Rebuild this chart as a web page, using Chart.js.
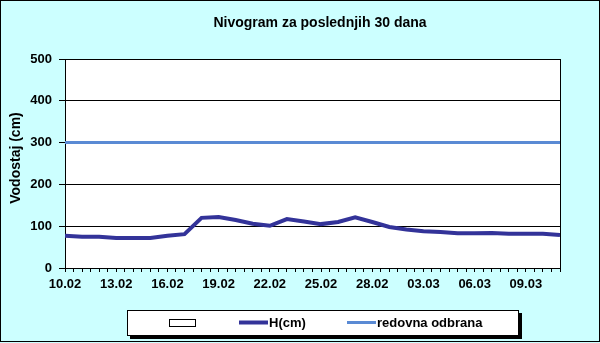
<!DOCTYPE html>
<html>
<head>
<meta charset="utf-8">
<script src="https://cdn.jsdelivr.net/npm/chart.js@4.4.1/dist/chart.umd.min.js"></script>
<style>
  body { margin: 0; background: #ccffff; }
  canvas { display: block; }
</style>
</head>
<body>
<canvas id="nivogram" width="600" height="343"></canvas>
<script>
const FONT = 'Arial, "Liberation Sans", sans-serif';

const dates = ['10.02', '11.02', '12.02', '13.02', '14.02', '15.02', '16.02', '17.02', '18.02', '19.02',
               '20.02', '21.02', '22.02', '23.02', '24.02', '25.02', '26.02', '27.02', '28.02', '01.03',
               '02.03', '03.03', '04.03', '05.03', '06.03', '07.03', '08.03', '09.03', '10.03', '11.03'];
const levels = [77, 75, 75, 72, 72, 72, 77, 81, 120, 122,
                115, 106, 101, 117, 111, 105, 110, 121, 110, 98,
                92, 88, 86, 83, 83, 84, 82, 82, 82, 79];
const redovnaOdbrana = 300;
const yTicks = [0, 100, 200, 300, 400, 500];

// background, plot frame, title, axis title and the boxed legend
const frame = {
  id: 'frame',
  beforeDraw(chart) {
    const c = chart.ctx, a = chart.chartArea;
    c.save();
    c.fillStyle = '#ccffff';
    c.fillRect(0, 0, chart.width, chart.height);
    c.fillStyle = '#ffffff';
    c.fillRect(a.left, a.top, a.right - a.left, a.bottom - a.top);
    c.restore();
  },
  afterDraw(chart) {
    const c = chart.ctx, a = chart.chartArea;
    c.save();
    c.strokeStyle = '#000';
    c.lineWidth = 1;
    c.beginPath();
    c.moveTo(Math.round(a.right) + 0.5, a.top);
    c.lineTo(Math.round(a.right) + 0.5, a.bottom);
    c.stroke();
    c.strokeRect(0.5, 0.5, 599, 341);

    c.fillStyle = '#000';
    c.font = 'bold 14px ' + FONT;
    c.textAlign = 'center';
    c.textBaseline = 'alphabetic';
    c.fillText('Nivogram za poslednjih 30 dana', 320, 27);

    c.save();
    c.translate(20, 158);
    c.rotate(-Math.PI / 2);
    c.fillText('Vodostaj (cm)', 0, 0);
    c.restore();

    // legend box with shadow
    c.fillStyle = '#000';
    c.fillRect(130, 313, 392, 26);
    c.fillStyle = '#fff';
    c.fillRect(127.5, 310.5, 391, 25);
    c.strokeRect(127.5, 310.5, 391, 25);

    const ds = chart.data.datasets;
    c.strokeRect(169.5, 319.5, 26, 7);
    c.lineCap = 'butt';
    c.strokeStyle = ds[1].borderColor;
    c.lineWidth = 4;
    c.beginPath(); c.moveTo(239, 322.5); c.lineTo(268, 322.5); c.stroke();
    c.strokeStyle = ds[2].borderColor;
    c.lineWidth = 3;
    c.beginPath(); c.moveTo(347, 322.5); c.lineTo(376, 322.5); c.stroke();
    c.fillStyle = '#000';
    c.font = 'bold 13px ' + FONT;
    c.textAlign = 'left';
    c.textBaseline = 'middle';
    c.fillText(ds[1].label, 269, 323);
    c.fillText(ds[2].label, 377, 323);
    c.restore();
  }
};

new Chart(document.getElementById('nivogram'), {
  type: 'line',
  data: {
    datasets: [
      { label: '', data: [], borderColor: '#000', backgroundColor: '#fff' },
      {
        label: 'H(cm)',
        data: levels.map((v, i) => ({ x: i, y: v })),
        borderColor: '#333399',
        borderWidth: 4,
        pointRadius: 0,
        tension: 0
      },
      {
        label: 'redovna odbrana',
        data: [{ x: 0, y: redovnaOdbrana }, { x: dates.length - 1, y: redovnaOdbrana }],
        borderColor: '#5a8ad4',
        borderWidth: 3,
        pointRadius: 0
      }
    ]
  },
  options: {
    responsive: false,
    animation: false,
    layout: { padding: { top: 59, right: 40, left: 0, bottom: 0 } },
    plugins: {
      legend: { display: false },
      title: { display: false },
      tooltip: { enabled: false }
    },
    scales: {
      x: {
        type: 'linear',
        min: 0,
        max: dates.length - 1,
        afterFit(scale) { scale.height = 75; },
        border: { display: true, color: '#000', width: 1 },
        grid: { drawOnChartArea: false, drawTicks: true, tickLength: 4, color: '#000' },
        ticks: {
          stepSize: 0.5,
          autoSkip: false,
          maxRotation: 0,
          padding: 5,
          color: '#000',
          font: { family: FONT, size: 13, weight: 'bold' },
          callback: v => (Number.isInteger(v) && v % 3 === 0) ? dates[v] : ''
        }
      },
      y: {
        min: yTicks[0],
        max: yTicks[yTicks.length - 1],
        afterFit(scale) { scale.width = 65; },
        afterBuildTicks(scale) { scale.ticks = yTicks.map(v => ({ value: v })); },
        border: { display: true, color: '#000', width: 1 },
        grid: { color: '#000', lineWidth: 1, tickLength: 6 },
        ticks: {
          padding: 7,
          color: '#000',
          font: { family: FONT, size: 13, weight: 'bold' }
        }
      }
    }
  },
  plugins: [frame]
});
</script>
</body>
</html>
